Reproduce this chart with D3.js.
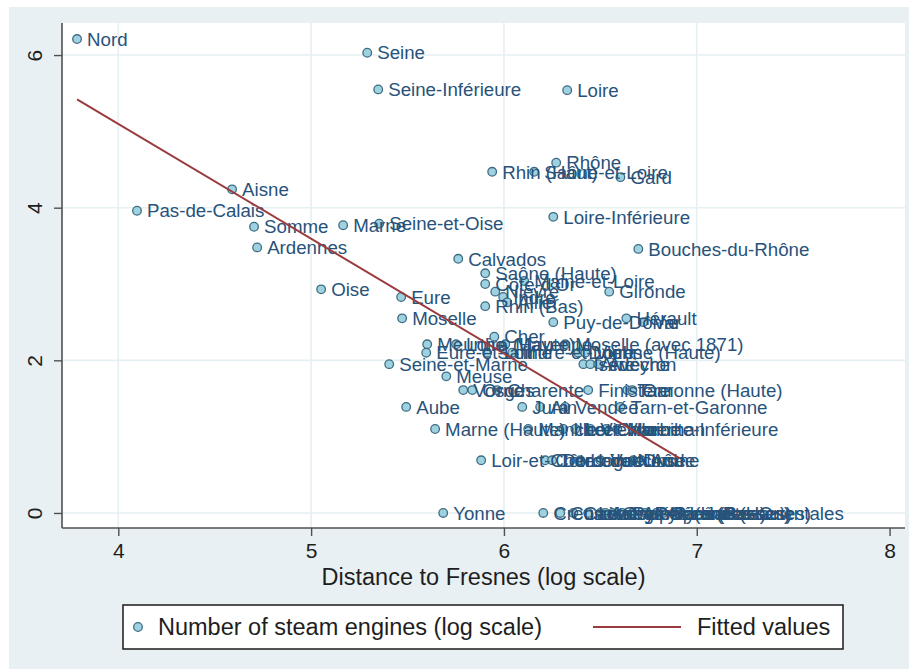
<!DOCTYPE html>
<html>
<head>
<meta charset="utf-8">
<script src="https://cdn.jsdelivr.net/npm/d3@7"></script>
<style>
  html, body { margin: 0; padding: 0; background: #ffffff; }
  svg { display: block; font-family: "Liberation Sans", Arial, sans-serif; }
</style>
</head>
<body>
<svg id="chart" width="909" height="669"></svg>
<script>
// Departments: name, log distance to Fresnes, log number of steam engines
const departments = [
  "Nord", "Seine", "Seine-Inférieure", "Loire", "Rhône", "Rhin (Haut)", "Saône-et-Loire", "Gard",
  "Aisne", "Pas-de-Calais", "Loire-Inférieure", "Somme", "Marne", "Seine-et-Oise", "Ardennes",
  "Bouches-du-Rhône", "Calvados", "Saône (Haute)", "Côte-d'Or", "Maine-et-Loire", "Oise", "Nièvre",
  "Indre", "Eure", "Gironde", "Rhin (Bas)", "Allier", "Moselle", "Puy-de-Dôme", "Hérault", "Var",
  "Cher", "Meurthe", "Loire (Haute)", "Mayenne", "Moselle (avec 1871)", "Eure-et-Loir", "Sarthe",
  "Indre-et-Loire", "Doubs", "Vienne (Haute)", "Seine-et-Marne", "Isère", "Ardèche", "Aveyron",
  "Meuse", "Vosges", "Orne", "Charente", "Finistère", "Tarn", "Garonne (Haute)", "Aube", "Jura",
  "Ain", "Vendée", "Tarn-et-Garonne", "Marne (Haute)", "Manche", "Ille-et-Vilaine", "Lot", "Vienne",
  "Charente-Inférieure", "Morbihan", "Loir-et-Cher", "Côtes-du-Nord", "Dordogne", "Loiret",
  "Vaucluse", "Drôme", "Aude", "Yonne", "Creuse", "Corrèze", "Cantal", "Lozère", "Ariège",
  "Lot-et-Garonne", "Gers", "Pyrénées (Basses)", "Alpes (Hautes)", "Pyrénées (Hautes)",
  "Alpes (Basses)", "Pyrénées-Orientales", "Landes"
];
const logDistance = [
  3.786, 5.291, 5.348, 6.328, 6.271, 5.939, 6.157, 6.604,
  4.590, 4.097, 6.256, 4.704, 5.166, 5.353, 4.720,
  6.697, 5.763, 5.903, 5.903, 6.105, 5.052, 5.955,
  5.996, 5.467, 6.546, 5.903, 6.017, 5.472, 6.256, 6.635, 6.723,
  5.950, 5.602, 5.752, 6.007, 6.318, 5.597, 5.913,
  6.043, 6.386, 6.422, 5.405, 6.412, 6.448, 6.489,
  5.701, 5.789, 5.836, 5.965, 6.437, 6.640, 6.666, 5.493, 6.095,
  6.188, 6.318, 6.604, 5.643, 6.126, 6.308, 6.370, 6.448,
  6.531, 6.588, 5.882, 6.214, 6.250, 6.396,
  6.500, 6.671, 6.713, 5.685, 6.204, 6.292, 6.360, 6.437, 6.500,
  6.526, 6.562, 6.614, 6.666, 6.733,
  6.790, 6.827, 6.910
];
const logEngines = [
  6.21, 6.03, 5.55, 5.54, 4.59, 4.47, 4.47, 4.40,
  4.24, 3.96, 3.88, 3.75, 3.77, 3.79, 3.48,
  3.46, 3.33, 3.14, 3.00, 3.04, 2.93, 2.90,
  2.83, 2.83, 2.90, 2.71, 2.76, 2.55, 2.50, 2.55, 2.50,
  2.31, 2.21, 2.21, 2.21, 2.21, 2.10, 2.10,
  2.10, 2.10, 2.10, 1.95, 1.95, 1.95, 1.95,
  1.79, 1.61, 1.61, 1.61, 1.61, 1.61, 1.61, 1.39, 1.39,
  1.39, 1.39, 1.39, 1.10, 1.10, 1.10, 1.10, 1.10,
  1.10, 1.10, 0.69, 0.69, 0.69, 0.69,
  0.69, 0.69, 0.69, 0, 0, 0, 0, 0, 0,
  0, 0, 0, 0, 0,
  0, 0, 0
];

// Linear fit: intercept, slope
const fitCoef = [11.116, -1.5045];

const xTicks = [4, 5, 6, 7, 8];
const yTicks = [0, 2, 4, 6];
const xGrid = [4, 5, 6, 7];
const yGrid = [0, 2, 4, 6];
const legendLabels = ["Number of steam engines (log scale)", "Fitted values"];
const xTitle = "Distance to Fresnes (log scale)";

const svg = d3.select("#chart");
const W = 909, H = 669;
const plot = { left: 62, right: 905, top: 23, bottom: 528 };

const x = d3.scaleLinear().domain([3.708, 8.08]).range([plot.left, plot.right]);
const y = d3.scaleLinear().domain([-0.197, 6.42]).range([plot.bottom, plot.top]);

const markerFill = "#9fd2e0";
const markerStroke = "#3e6c82";
const labelColor = "#27527a";
const fitColor = "#9a3b3e";
const inkColor = "#1e1e1e";

// Graph region background
svg.append("rect").attr("x", 9).attr("y", 7).attr("width", W - 9).attr("height", H - 7)
  .attr("fill", "#e9f0f3");

// Plot region
svg.append("rect").attr("x", plot.left).attr("y", plot.top)
  .attr("width", plot.right - plot.left).attr("height", plot.bottom - plot.top)
  .attr("fill", "#ffffff");

// Grid lines
svg.append("g").selectAll("line").data(xGrid).join("line")
  .attr("x1", d => x(d)).attr("x2", d => x(d))
  .attr("y1", plot.top).attr("y2", plot.bottom)
  .attr("stroke", "#e6eff2").attr("stroke-width", 1.6);
svg.append("g").selectAll("line").data(yGrid).join("line")
  .attr("y1", d => y(d)).attr("y2", d => y(d))
  .attr("x1", plot.left).attr("x2", plot.right)
  .attr("stroke", "#e6eff2").attr("stroke-width", 1.6);

// Axes
const xAxis = svg.append("g").attr("transform", `translate(0,${plot.bottom})`)
  .call(d3.axisBottom(x).tickValues(xTicks).tickFormat(d3.format("d")).tickSize(8));
const yAxis = svg.append("g").attr("transform", `translate(${plot.left},0)`)
  .call(d3.axisLeft(y).tickValues(yTicks).tickFormat(d3.format("d")).tickSize(8));

[xAxis, yAxis].forEach(g => {
  g.select(".domain").attr("stroke", "#505050").attr("stroke-width", 1.6);
  g.selectAll(".tick line").attr("stroke", "#505050").attr("stroke-width", 1.4);
  g.selectAll(".tick text").attr("fill", inkColor).attr("font-size", 21)
    .attr("font-family", "Liberation Sans, Arial, sans-serif");
});
xAxis.select(".domain").attr("d", `M${plot.left},0H${plot.right}`);
yAxis.select(".domain").attr("d", `M0,${plot.top}V${plot.bottom}`);

// Tick label placement: horizontal x labels, vertical y labels
xAxis.selectAll(".tick text").attr("dy", null).attr("y", 30);
yAxis.selectAll(".tick text")
  .attr("x", null).attr("dy", null)
  .attr("text-anchor", "middle")
  .attr("transform", "translate(-20,0) rotate(-90)")
  .attr("y", 0);

// Axis title
svg.append("text").attr("x", (plot.left + plot.right) / 2).attr("y", 585)
  .attr("text-anchor", "middle").attr("font-size", 23.5).attr("fill", inkColor)
  .text(xTitle);

// Scatter with marker labels
const points = departments.map((name, i) => ({ name, dx: logDistance[i], e: logEngines[i] }));
const pg = svg.append("g");
pg.selectAll("circle").data(points).join("circle")
  .attr("cx", d => x(d.dx)).attr("cy", d => y(d.e)).attr("r", 4.3)
  .attr("fill", markerFill).attr("stroke", markerStroke).attr("stroke-width", 1.3);
pg.selectAll("text").data(points).join("text")
  .attr("x", d => x(d.dx) + 10).attr("y", d => y(d.e) + 6.7)
  .attr("font-size", 18.7).attr("fill", labelColor)
  .text(d => d.name);

// Fitted line over the range of the data
const xr = d3.extent(logDistance);
const fitPts = xr.map(v => [v, fitCoef[0] + fitCoef[1] * v]);
svg.append("path")
  .attr("d", d3.line().x(d => x(d[0])).y(d => y(d[1]))(fitPts))
  .attr("stroke", fitColor).attr("stroke-width", 2).attr("fill", "none");

// Legend
const lg = svg.append("g");
lg.append("rect").attr("x", 123).attr("y", 605).attr("width", 720).attr("height", 44)
  .attr("fill", "#ffffff").attr("stroke", "#1a1a1a").attr("stroke-width", 1.5);
lg.append("circle").attr("cx", 138).attr("cy", 627).attr("r", 4.3)
  .attr("fill", markerFill).attr("stroke", markerStroke).attr("stroke-width", 1.3);
lg.append("text").attr("x", 158).attr("y", 635).attr("font-size", 23.5).attr("fill", inkColor)
  .text(legendLabels[0]);
lg.append("line").attr("x1", 593).attr("x2", 681).attr("y1", 627).attr("y2", 627)
  .attr("stroke", fitColor).attr("stroke-width", 2);
lg.append("text").attr("x", 697).attr("y", 635).attr("font-size", 23.5).attr("fill", inkColor)
  .text(legendLabels[1]);
</script>
</body>
</html>
